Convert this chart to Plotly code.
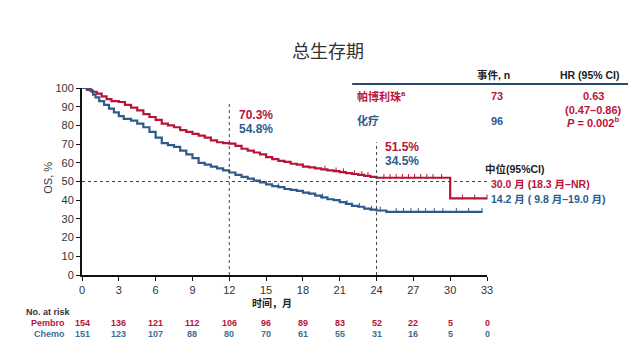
import numpy as np
import plotly.graph_objects as go

RED = "#B8143A"
BLUE = "#2F5B8C"
FONT = "Arial, 'Liberation Sans', 'Noto Sans CJK SC', sans-serif"

# KM step data (months, OS %)
pembro_t = [0, 0.4, 0.8, 1.2, 1.6, 2.0, 2.4, 3.0, 3.5, 4.0, 4.5, 5.0, 5.5, 6.0, 6.5, 7.0, 7.5,
            8.0, 8.5, 9.0, 9.5, 10.0, 10.5, 11.0, 11.5, 12.0, 12.5, 13.0, 13.5, 14.0, 14.5,
            15.0, 15.5, 16.0, 16.5, 17.0, 17.5, 18.0, 18.5, 19.0, 19.5, 20.0, 20.5, 21.0,
            21.5, 22.0, 22.5, 23.0, 23.5, 24.0, 30.0, 33.0]
pembro_s = [100, 99, 98, 97, 95.5, 94, 93, 92.5, 91, 89.5, 88, 86, 84.5, 83, 81, 80, 79,
            77.5, 76.5, 75.5, 74.5, 73.5, 72, 71, 70.5, 70.3, 69, 67.5, 66.5, 65.5, 64.5,
            63, 62, 61, 60.5, 59.5, 59, 58, 57.5, 57, 56.5, 56, 55.5, 55,
            54.5, 54, 53.5, 53, 52.5, 52, 41, 41]
chemo_t = [0, 0.4, 0.7, 0.9, 1.1, 1.4, 1.8, 2.2, 2.6, 3.0, 3.4, 4.0, 4.5, 5.0, 5.5, 6.0, 6.5,
           7.0, 7.5, 8.0, 8.5, 9.0, 9.5, 10.0, 10.5, 11.0, 11.5, 12.0, 12.5, 13.0, 13.5, 14.0,
           14.5, 15.0, 15.5, 16.0, 16.5, 17.0, 17.5, 18.0, 18.5, 19.0, 19.5, 20.0, 20.5, 21.0,
           21.5, 22.0, 22.5, 23.0, 23.5, 24.0, 24.8, 32.6]
chemo_s = [100, 99.5, 98.5, 96.5, 95, 93, 91, 89, 87, 85, 83.5, 82.5, 81, 79, 76.5, 73.5, 70.5,
           69.5, 68.5, 66.5, 64.5, 62.5, 60, 59, 58, 57, 56, 54.8, 53.5, 52.5, 51.5, 50.5,
           49.5, 48.5, 47.5, 47, 46, 45.5, 45, 44, 43.5, 42.5, 41.5, 40.5, 40, 39,
           38, 37, 36.5, 35.5, 35, 34.5, 33.8, 33.8]
pembro_censor = [19.8, 20.7, 21.3, 22.2, 22.8, 23.3, 24.6, 25.1, 25.6, 26.1, 26.6, 27.1,
                 27.6, 28.1, 28.6, 29.3, 31.0, 32.0, 33.0]
chemo_censor = [16.0, 19.6, 21.6, 22.6, 23.6, 24.3, 25.6, 26.2, 26.8, 27.4, 28.0, 28.7,
                29.4, 30.5, 31.5, 32.6]

x_ticks = [0, 3, 6, 9, 12, 15, 18, 21, 24, 27, 30, 33]
y_ticks = [0, 10, 20, 30, 40, 50, 60, 70, 80, 90, 100]
risk_pembro = [154, 136, 121, 112, 106, 96, 89, 83, 52, 22, 5, 0]
risk_chemo = [151, 123, 107, 88, 80, 70, 61, 55, 31, 16, 5, 0]
landmarks = [12, 24]
landmark_tops = [92, 71]
median_level = 50


def step_at(ts, ss, q):
    idx = np.searchsorted(np.array(ts), np.array(q), side="right") - 1
    return np.array(ss)[idx]


fig = go.Figure()
fig.add_trace(go.Scatter(x=pembro_t, y=pembro_s, mode="lines", line=dict(color=RED, width=2.2, shape="hv"),
                         showlegend=False, cliponaxis=False))
fig.add_trace(go.Scatter(x=chemo_t, y=chemo_s, mode="lines", line=dict(color=BLUE, width=2.2, shape="hv"),
                         showlegend=False, cliponaxis=False))
fig.add_trace(go.Scatter(x=pembro_censor, y=step_at(pembro_t, pembro_s, pembro_censor) + 0.7, mode="markers",
                         marker=dict(symbol="line-ns", size=3.5, line=dict(color=RED, width=1)),
                         showlegend=False, cliponaxis=False))
fig.add_trace(go.Scatter(x=chemo_censor, y=step_at(chemo_t, chemo_s, chemo_censor) + 0.7, mode="markers",
                         marker=dict(symbol="line-ns", size=3.5, line=dict(color=BLUE, width=1)),
                         showlegend=False, cliponaxis=False))

shapes = []
for lm, top in zip(landmarks, landmark_tops):
    shapes.append(dict(type="line", xref="x", yref="y", x0=lm, x1=lm, y0=0, y1=top,
                       line=dict(color="#444", width=1, dash="dot")))
shapes.append(dict(type="line", xref="x", yref="y", x0=0, x1=33, y0=median_level, y1=median_level,
                   line=dict(color="#444", width=1, dash="dot")))
shapes.append(dict(type="line", xref="paper", yref="paper", x0=0.667, x1=1.348, y0=1.021, y1=1.021,
                   line=dict(color="#2B4A6F", width=2)))

ann = []


def A(text, x, y, color="#222", size=11, xanchor="left", bold=False, xref="paper", angle=0):
    if bold:
        text = "<b>" + text + "</b>"
    ann.append(dict(text=text, x=x, y=y, xref=xref, yref="paper", xanchor=xanchor, yanchor="middle",
                    showarrow=False, textangle=angle, font=dict(color=color, size=size, family=FONT)))


# table
A("事件, n", 1.015, 1.07, "#222", 10.5, "center", True)
A("HR (95% CI)", 1.254, 1.07, "#222", 10.5, "center", True)
A("帕博利珠<sup>a</sup>", 0.674, 0.957, RED, 11, "left", True)
A("73", 1.025, 0.957, RED, 11, "center", True)
A("0.63", 1.262, 0.957, RED, 11, "center", True)
A("(0.47–0.86)", 1.262, 0.882, RED, 11, "center", True)
A("化疗", 0.674, 0.824, BLUE, 11, "left", True)
A("96", 1.025, 0.824, BLUE, 11, "center", True)
A("<i>P</i> = 0.002<sup>b</sup>", 1.262, 0.82, RED, 11, "center", True)

# landmark percents
A("70.3%", 0.383, 0.856, RED, 12, "left", True)
A("54.8%", 0.383, 0.78, BLUE, 12, "left", True)
A("51.5%", 0.743, 0.684, RED, 12, "left", True)
A("34.5%", 0.743, 0.61, BLUE, 12, "left", True)

# medians
A("中位(95%CI)", 0.99, 0.567, "#222", 10.5, "left", True)
A("30.0 月 (18.3 月–NR)", 1.005, 0.487, RED, 10.5, "left", True)
A("14.2 月 ( 9.8 月–19.0 月)", 1.005, 0.406, BLUE, 10.5, "left", True)

# axis titles
A("时间，月", 15.5, -0.15, "#222", 10, "center", True, xref="x")
A("OS, %", -0.084, 0.52, "#333", 11, "center", False, angle=-90)

# risk table
A("No. at risk", -0.143, -0.198, "#333", 9, "left", True)
A("Pembro", -0.038, -0.257, RED, 9, "right", True)
A("Chemo", -0.038, -0.316, "#3F6E98", 9, "right", True)
for t, rp, rc in zip(x_ticks, risk_pembro, risk_chemo):
    A(str(rp), t, -0.257, RED, 9, "center", True, xref="x")
    A(str(rc), t, -0.316, "#3F6E98", 9, "center", True, xref="x")

fig.update_layout(
    width=640, height=362,
    margin=dict(l=74, r=161, t=80, b=95),
    plot_bgcolor="white", paper_bgcolor="white",
    font=dict(family=FONT, color="#333"),
    title=dict(text="总生存期", x=0.5, xanchor="center", y=0.878, yanchor="middle",
               font=dict(size=18, color="#333", family="'Noto Sans CJK SC', sans-serif")),
    shapes=shapes, annotations=ann,
    xaxis=dict(range=[0, 33], tickvals=x_ticks, showgrid=False, zeroline=False,
               showline=True, linecolor="#111", linewidth=2, ticks="outside", ticklen=4,
               tickcolor="#111", tickfont=dict(size=11, color="#333"), automargin=False),
    yaxis=dict(range=[0, 100], tickvals=y_ticks, showgrid=False, zeroline=False,
               showline=True, linecolor="#111", linewidth=2, ticks="outside", ticklen=4,
               tickcolor="#111", tickfont=dict(size=11, color="#333"), automargin=False),
)

fig.write_html("out.html")
